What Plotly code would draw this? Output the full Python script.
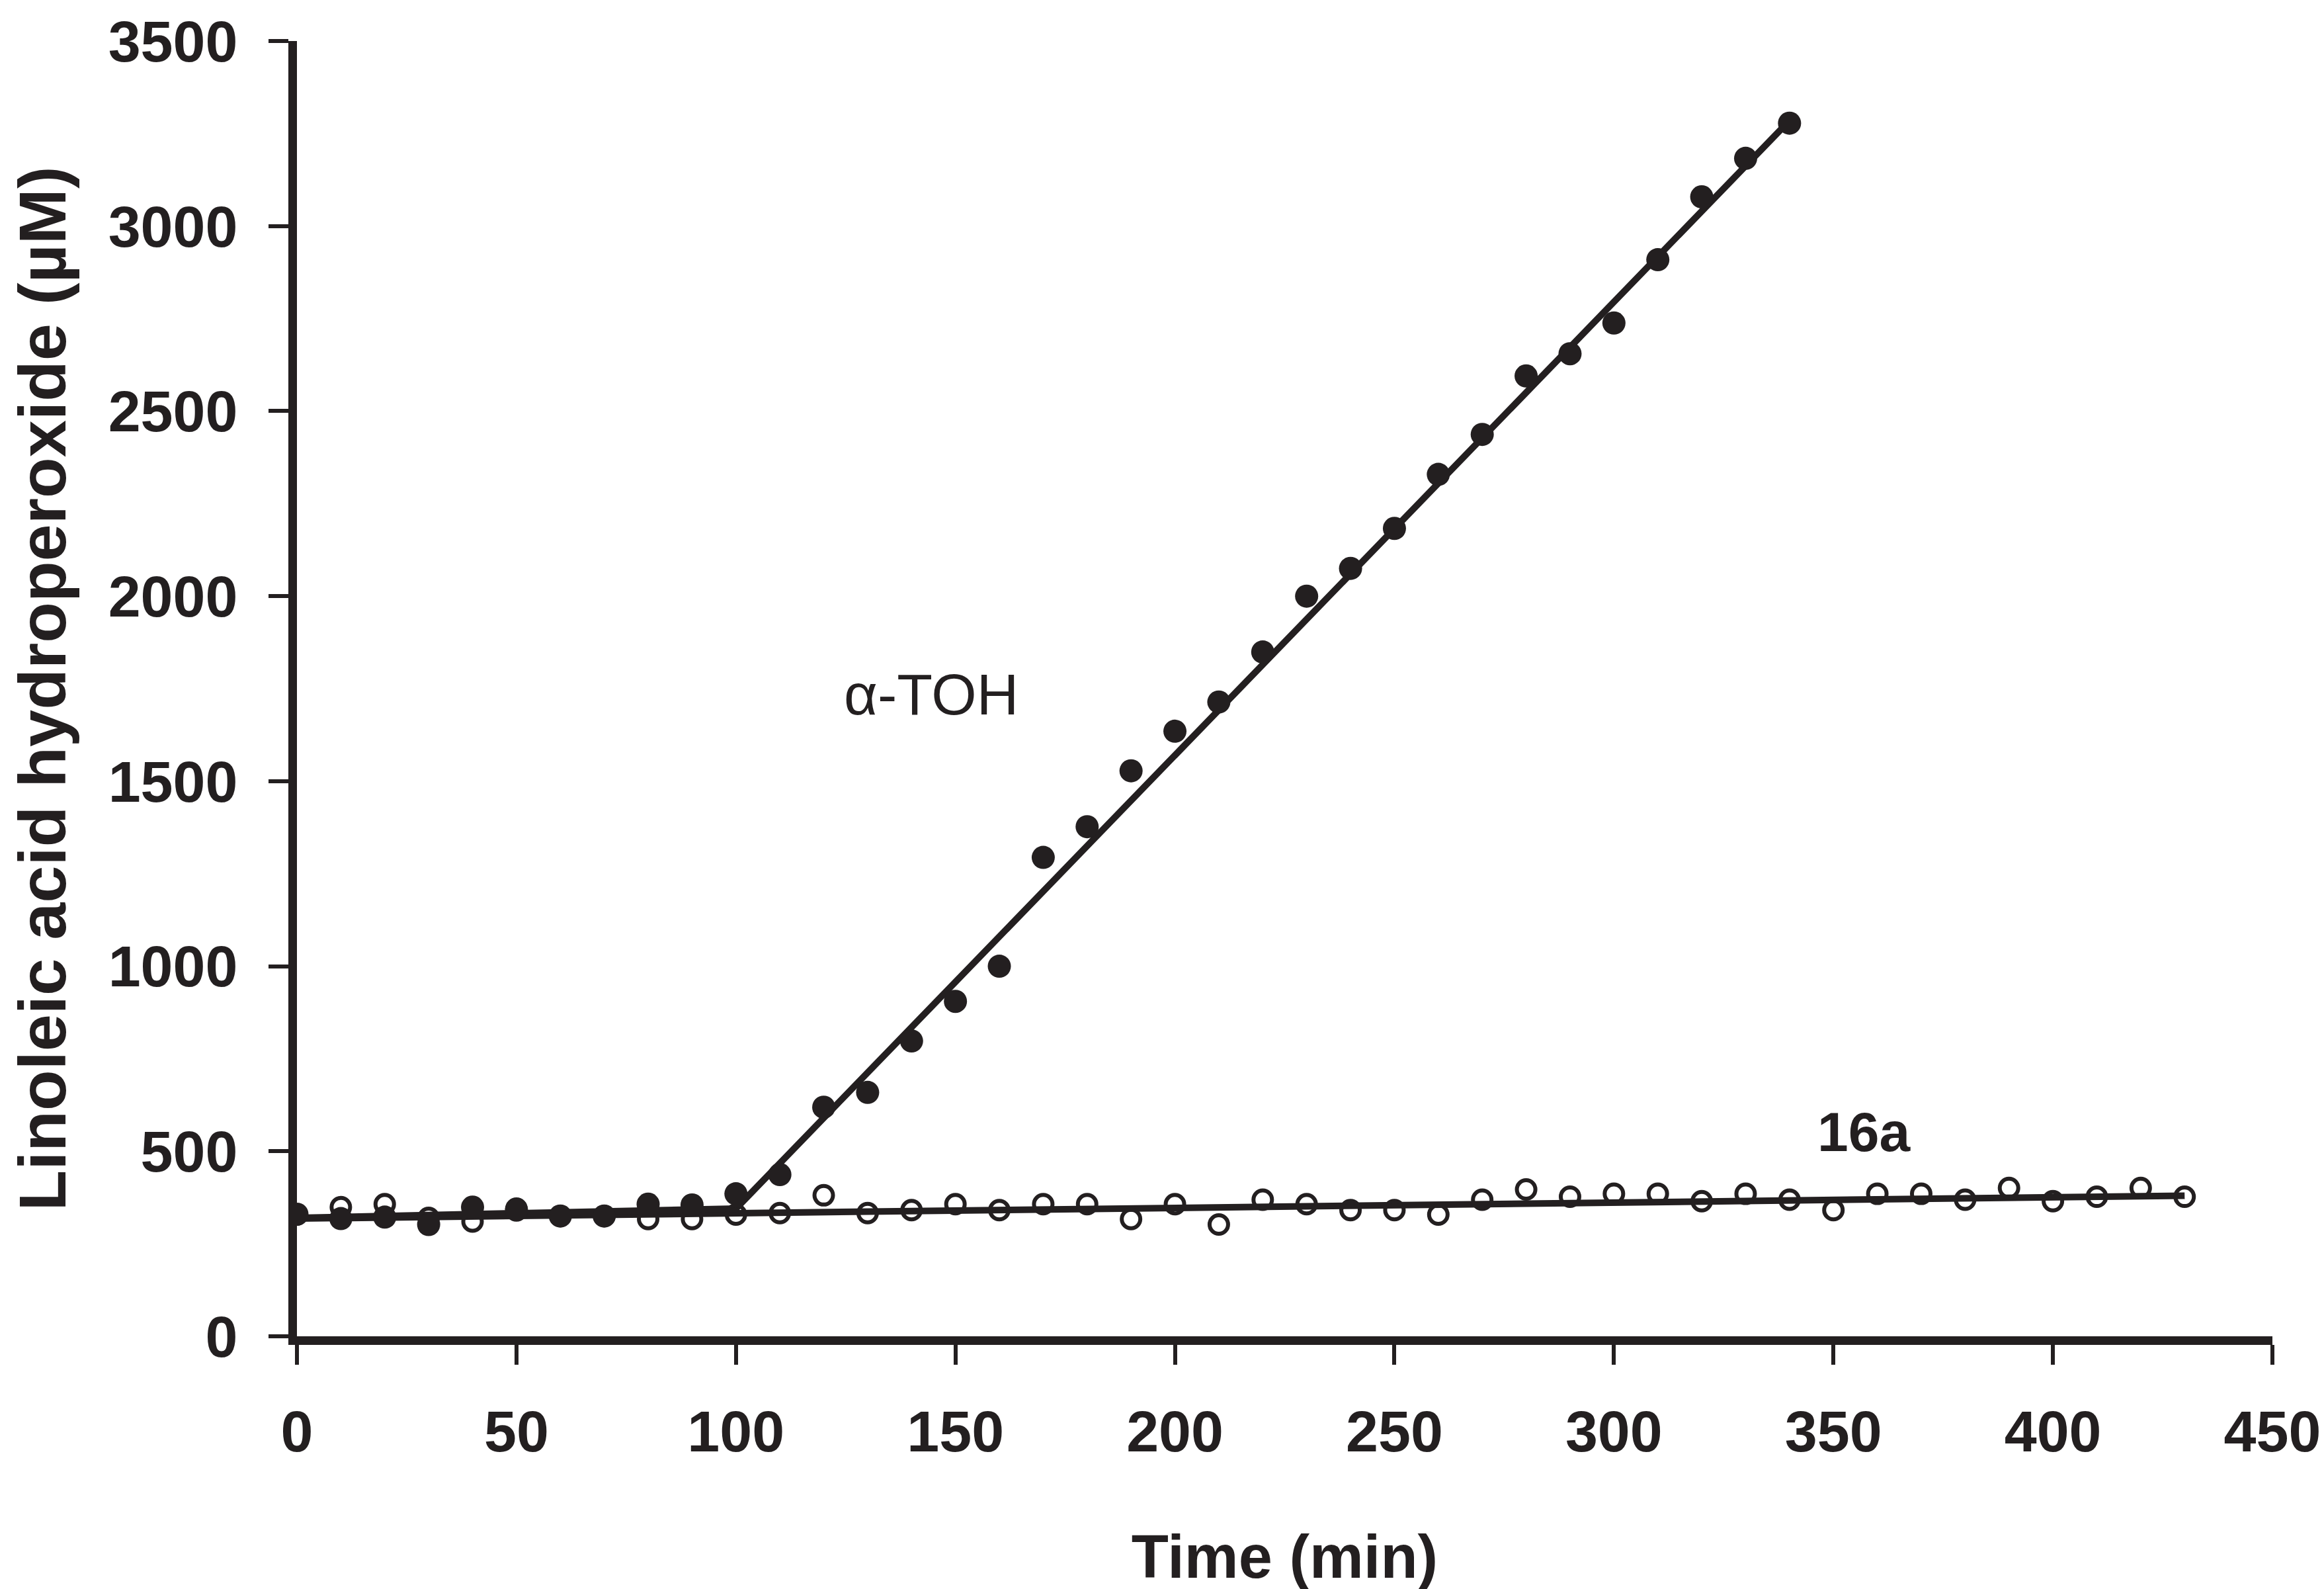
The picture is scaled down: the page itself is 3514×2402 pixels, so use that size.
import plotly.graph_objects as go

# data
time_toh = [0, 10, 20, 30, 40, 50, 60, 70, 80, 90, 100, 110, 120, 130, 140, 150, 160, 170,
            180, 190, 200, 210, 220, 230, 240, 250, 260, 270, 280, 290, 300, 310, 320, 330, 340]
lahp_toh = [330, 318, 322, 302, 349, 341, 325, 325, 357, 355, 385, 437, 619, 659, 798, 905, 1000, 1294,
            1377, 1528, 1635, 1714, 1849, 2000, 2075, 2183, 2329, 2437, 2595, 2655, 2738, 2909, 3079, 3183, 3278]

time_16a = [0, 10, 20, 30, 40, 50, 60, 70, 80, 90, 100, 110, 120, 130, 140, 150, 160, 170, 180, 190, 200, 210,
            220, 230, 240, 250, 260, 270, 280, 290, 300, 310, 320, 330, 340, 350, 360, 370, 380, 390, 400, 410, 420, 430]
lahp_16a = [329, 349, 357, 320, 310, 345, 325, 325, 317, 317, 329, 333, 381, 333, 341, 357, 341, 357, 357, 317, 357, 302,
            369, 357, 341, 341, 329, 369, 397, 377, 385, 385, 365, 385, 369, 341, 385, 385, 369, 401, 365, 377, 401, 377]

# fitted lines
fit_toh_x = [0, 100, 340]
fit_toh_y = [320, 345, 3285]
fit_16a_x = [0, 430]
fit_16a_y = [318, 380]

ink = '#231f20'
tick_font = dict(size=88, color=ink, family='Liberation Sans, Arial', weight='bold')

fig = go.Figure()

fig.add_trace(go.Scatter(x=fit_16a_x, y=fit_16a_y, mode='lines',
                         line=dict(color=ink, width=10), hoverinfo='skip'))
fig.add_trace(go.Scatter(x=fit_toh_x, y=fit_toh_y, mode='lines',
                         line=dict(color=ink, width=10), hoverinfo='skip'))

# 16a - open circles
fig.add_trace(go.Scatter(
    x=time_16a, y=lahp_16a, mode='markers', name='16a',
    marker=dict(symbol='circle-open', size=28, color=ink, line=dict(color=ink, width=6))
))

# alpha-tocopherol - filled circles
fig.add_trace(go.Scatter(
    x=time_toh, y=lahp_toh, mode='markers', name='α-TOH',
    marker=dict(symbol='circle', size=35, color=ink, line=dict(width=0))
))

fig.add_annotation(x=144.5, y=1734, text='α-TOH', showarrow=False,
                   font=dict(family='Liberation Sans, Arial', size=88, color=ink))
fig.add_annotation(x=357, y=552, text='<b>16a</b>', showarrow=False,
                   font=dict(family='Liberation Sans, Arial', size=84, color=ink))

fig.update_layout(
    width=3514, height=2402,
    showlegend=False,
    plot_bgcolor='white',
    paper_bgcolor='white',
    margin=dict(l=441, r=86, t=54, b=390),
    font=dict(family='Liberation Sans, Arial', color=ink),
    xaxis=dict(
        title=dict(text='<b>Time (min)</b>', font=dict(size=92, color=ink), standoff=114),
        range=[0, 450], tickmode='linear', tick0=0, dtick=50,
        showgrid=False, zeroline=False, automargin=False,
        showline=True, linecolor=ink, linewidth=13,
        ticks='outside', ticklen=30, tickwidth=6, tickcolor=ink,
        tickfont=tick_font, ticklabelstandoff=25, ticklabeloverflow='allow',
    ),
    yaxis=dict(
        title=dict(text='<b>Linoleic acid hydroperoxide (µM)</b>', font=dict(size=101, color=ink), standoff=44),
        range=[0, 3500], tickmode='linear', tick0=0, dtick=500,
        showgrid=False, zeroline=False, automargin=False,
        showline=True, linecolor=ink, linewidth=13,
        ticks='outside', ticklen=30, tickwidth=6, tickcolor=ink,
        tickfont=tick_font, ticklabelstandoff=29, ticklabeloverflow='allow',
    ),
)

fig.write_html("out.html")
